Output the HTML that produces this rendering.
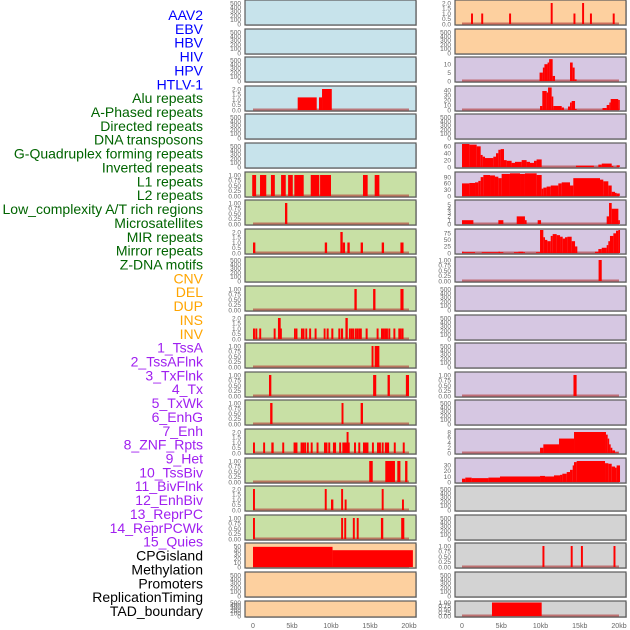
<!DOCTYPE html>
<html><head><meta charset="utf-8">
<style>
html,body{margin:0;padding:0;background:#fff;width:630px;height:630px;overflow:hidden}
svg{display:block;font-family:"Liberation Sans",sans-serif}
</style></head>
<body>
<svg id="chart" width="630" height="630" viewBox="0 0 630 630" xmlns="http://www.w3.org/2000/svg"></svg>
<script>
const labelNames = ["AAV2","EBV","HBV","HIV","HPV","HTLV-1","Alu repeats","A-Phased repeats","Directed repeats","DNA transposons","G-Quadruplex forming repeats","Inverted repeats","L1 repeats","L2 repeats","Low_complexity A/T rich regions","Microsatellites","MIR repeats","Mirror repeats","Z-DNA motifs","CNV","DEL","DUP","INS","INV","1_TssA","2_TssAFlnk","3_TxFlnk","4_Tx","5_TxWk","6_EnhG","7_Enh","8_ZNF_Rpts","9_Het","10_TssBiv","11_BivFlnk","12_EnhBiv","13_ReprPC","14_ReprPCWk","15_Quies","CPGisland","Methylation","Promoters","ReplicationTiming","TAD_boundary"];
const labelColors = ["#0000ff","#0000ff","#0000ff","#0000ff","#0000ff","#0000ff","#006400","#006400","#006400","#006400","#006400","#006400","#006400","#006400","#006400","#006400","#006400","#006400","#006400","#ffa500","#ffa500","#ffa500","#ffa500","#ffa500","#a020f0","#a020f0","#a020f0","#a020f0","#a020f0","#a020f0","#a020f0","#a020f0","#a020f0","#a020f0","#a020f0","#a020f0","#a020f0","#a020f0","#a020f0","#000","#000","#000","#000","#000"];
const xTickValues = [0,5,10,15,20];
const xTickLabels = ["0","5kb","10kb","15kb","20kb"];
const T_EMPTY = ["0","100","200","300","400","500"];
const T_ONE = ["0.00","0.25","0.50","0.75","1.00"];
const T_TWO = ["0.0","0.5","1.0","1.5","2.0"];
const leftBg = ["lb","lb","lb","lb","lb","lb","gr","gr","gr","gr","gr","gr","gr","gr","gr","gr","gr","gr","gr","pe","pe","pe"];
const rightBg = ["pe","pe","la","la","la","la","la","la","la","la","la","la","la","la","la","la","la","gy","gy","gy","gy","gy"];
const leftTicks = [T_EMPTY,T_EMPTY,T_EMPTY,T_TWO,T_EMPTY,T_EMPTY,T_ONE,T_ONE,T_TWO,T_EMPTY,T_ONE,T_TWO,T_ONE,T_ONE,T_ONE,T_TWO,T_ONE,T_TWO,T_ONE,["0","10","20","30","40","50"],T_EMPTY,T_EMPTY];
const rightTicks = [T_TWO,T_EMPTY,["0","5","10"],["0","10","20","30","40"],T_EMPTY,["0","20","40","60"],["0","30","60","90"],["0","1","2","3","4","5"],["0","25","50","75"],T_ONE,T_EMPTY,T_EMPTY,T_EMPTY,T_ONE,T_EMPTY,["0","2","4","6","8"],["0","10","20","30"],T_EMPTY,T_EMPTY,T_ONE,T_EMPTY,T_ONE];
const rightTopValue = [2,500,12.5,42,500,61,100,5.5,80,1,500,500,500,1,500,8,38,500,500,1,500,1];
const leftTopValue = [500,500,500,2,500,500,1,1,2,500,1,2,1,1,1,2,1,2,1,50,500,500];
const leftBars = [
 [],[],[],
 [[5.73,8.17,1.2],[8.46,8.85,1.2],[8.85,10.1,2]],
 [],[],
 [[-0.1,0.4,1],[0.9,1.7,1],[2.3,2.8,1],[3.6,4.2,1],[4.5,5.1,1],[5.3,6.5,1],[7.4,8.5,1],[8.6,10,1],[14.1,14.7,1],[15.6,16.2,1]],
 [[4.1,4.4,1]],
 [[0,0.3,1],[9.2,9.5,1],[11.2,11.5,2],[11.5,11.8,1],[12.1,12.4,1],[13.8,14.1,1],[16.5,16.8,1],[18.9,19.3,1]],
 [],
 [[13.0,13.3,1],[15.4,15.7,1],[18.9,19.3,1]],
 [[0,0.25,1],[0.3,0.55,1],[0.8,1.05,1],[2.65,2.9,1],[3.2,3.55,2],[3.46,3.7,1],[5.26,5.5,1],[5.5,5.7,1],[6.15,6.4,1],[6.4,6.6,1],[6.71,6.95,1],[7.2,7.45,1],[7.9,8.15,1],[9.06,9.3,1],[9.44,9.7,1],[10.04,10.3,1],[10.94,11.2,1],[11.28,11.55,1],[11.85,12.15,2],[12.3,12.55,1],[12.56,12.8,1],[12.78,13.0,1],[13.08,13.3,1],[13.29,13.5,1],[13.5,13.75,1],[13.72,13.95,1],[14.44,14.7,1],[15.85,16.1,1],[16.41,16.65,1],[16.58,16.85,1],[16.84,17.05,1],[17.05,17.3,1],[17.35,17.6,1],[18,18.25,1],[18.63,18.85,1],[18.85,19.06,1],[19.06,19.3,1]],
 [[15.2,15.45,1],[15.6,16.2,1]],
 [[2.05,2.35,1],[15.4,15.8,1],[17.25,17.55,1],[19.6,20,1]],
 [[2.2,2.5,1],[11.35,11.6,1],[13.8,14.1,1]],
 [[0,0.25,1],[1.3,1.55,1],[2.35,2.65,1],[3.75,4,1],[5.2,5.45,1],[5.45,5.7,1],[6.1,6.35,1],[6.35,6.55,1],[6.55,6.8,1],[6.9,7.15,1],[7.4,7.65,1],[8.15,8.4,1],[9.1,9.35,1],[9.3,9.55,1],[9.65,9.9,1],[10.25,10.5,1],[10.4,10.65,1],[11.05,11.3,1],[11.45,11.7,1],[11.65,11.9,1],[11.8,12.05,1],[12.0,12.25,2],[12.15,12.4,1],[12.95,13.2,1],[13.5,13.75,1],[14.1,14.35,1],[14.3,14.55,1],[14.55,14.8,1],[15.25,15.5,1],[15.9,16.15,1],[16.15,16.4,1],[16.5,16.75,1],[16.9,17.15,1],[17.1,17.35,1],[17.2,17.45,1],[18.05,18.3,1],[19.2,19.45,1]],
 [[14.9,15.35,1],[16.96,18.2,1],[18.5,18.9,1],[19.5,19.8,1]],
 [[0,0.25,2],[9.2,9.45,2],[10.0,10.3,1],[11.3,11.55,2],[11.75,12,1],[16.5,16.75,2],[19.1,19.35,1]],
 [[0,0.25,1],[11.3,11.55,1],[11.7,11.95,1],[12.8,13.05,1],[13.3,13.55,1],[16.4,16.7,1],[19.0,19.4,1]],
 [[0,10.2,48],[10.2,20.5,40]],
 [],[]
];
const rightBars = [
 [[1.15,1.4,1],[2.45,2.7,1],[6.0,6.25,1],[11.3,11.55,2],[14.2,14.45,1],[15.3,15.55,2],[16.3,16.55,1],[19.2,19.45,1]],
 [],
 [[9.88,10.3,5],[10.3,10.5,8],[10.5,10.9,10],[10.9,11.1,11],[11.1,11.55,13],[11.55,11.85,3],[13.76,14.1,11],[14.1,14.35,8],[14.35,14.6,1]],
 [[9.94,10.23,8],[10.23,10.79,38],[10.79,10.96,35],[10.96,11.42,45],[11.42,11.63,27],[11.63,12.7,8],[12.7,12.99,5],[13.5,13.76,7],[13.76,13.97,15],[13.97,14.4,18],[14.4,14.6,2],[17.9,18.43,4],[18.43,18.77,10],[18.77,18.94,15],[18.94,19.9,22],[19.9,20.1,20]],
 [],
 [[0,0.94,70],[0.94,1.87,65],[1.87,2.38,60],[2.38,2.63,35],[2.63,2.93,30],[2.93,3.99,26],[3.99,4.33,30],[4.33,4.63,40],[4.63,4.92,50],[4.92,5.35,52],[5.35,5.69,20],[5.69,6.32,18],[6.32,6.75,12],[6.75,7.6,15],[7.6,8.23,20],[8.23,8.66,15],[8.66,9.17,12],[9.17,9.5,18],[9.5,10.15,22],[14.52,16.8,4],[17.37,17.8,7],[17.8,19.07,10],[19.07,19.28,3],[19.7,20.1,5]],
 [[0,0.94,60],[0.94,1.66,62],[1.66,2.08,65],[2.08,2.38,72],[2.38,2.72,90],[2.72,3.57,100],[3.57,4.2,98],[4.2,4.63,92],[4.63,5.05,85],[5.05,6.11,105],[6.11,7.39,108],[7.39,8.02,105],[8.02,9.51,108],[9.51,10.15,100],[10.15,10.36,35],[10.36,10.78,40],[10.78,11.3,45],[11.3,12.27,50],[12.27,12.7,60],[12.7,13.76,65],[13.76,14.18,50],[14.18,17.58,85],[17.58,18,78],[18,18.64,70],[18.64,19.07,50],[19.07,19.49,20],[19.49,19.7,15],[19.7,20.1,12]],
 [[0,1.45,1],[4.63,5.27,1],[6.97,8.02,2],[8.02,8.23,1],[9.64,10.07,1],[18.43,18.73,2],[18.73,19.07,5.5],[19.07,19.92,4],[19.92,20.1,1]],
 [[0,0.21,5],[0.21,1.66,3],[2.51,4.63,3],[4.63,4.84,5],[4.84,5.27,3],[6.62,7.18,3],[7.18,7.81,5],[7.81,8.02,3],[9.43,9.94,3],[9.94,10.36,90],[10.36,10.57,60],[10.57,10.87,50],[10.87,11.3,45],[11.3,11.55,65],[11.55,12.06,72],[12.06,12.49,68],[12.49,12.83,62],[12.83,13.12,55],[13.12,13.42,60],[13.42,13.97,62],[13.97,14.4,45],[14.4,14.69,25],[16.94,17.37,5],[17.37,17.8,15],[17.8,18.43,20],[18.43,18.64,30],[18.64,18.85,45],[18.85,19.28,65],[19.28,19.62,75],[19.62,19.92,85],[19.92,20.13,90]],
 [[17.4,17.8,1]],
 [],[],[],
 [[14.2,14.6,1]],
 [],
 [[9.94,10.36,2],[10.36,12.36,3.3],[12.36,14.27,5.5],[14.27,18.34,8],[18.34,18.56,7],[18.56,18.73,5.5],[18.73,18.94,3.3],[18.94,19.15,2],[19.15,19.49,1],[19.49,19.92,0.2]],
 [[0,0.42,6],[0.42,1.23,8],[1.23,3.36,7],[3.36,4.84,8],[4.84,9.94,10],[9.94,10.57,11],[10.57,11.72,10],[11.72,12.49,12],[12.49,12.78,13],[12.78,13.34,15],[13.34,13.76,18],[13.76,14.1,22],[14.1,14.27,30],[14.27,14.61,36],[14.61,18.22,38],[18.22,18.64,34],[18.64,19.07,33],[19.07,19.49,28],[19.49,19.7,26],[19.7,20.13,30]],
 [],[],
 [[10.25,10.5,1],[13.85,14.1,1],[15.15,15.4,1],[19.3,19.55,1]],
 [],
 [[3.82,10.15,1]]
];

const NS="http://www.w3.org/2000/svg";
const svg=document.getElementById('chart');
const bgColors={lb:"#c7e3eb",gr:"#c8e0a5",pe:"#fdd09f",la:"#d6c7e2",gy:"#d3d3d3"};
const cols=[{x:245,w:171,x0:253,k:7.8,tx:241},{x:455,w:171,x0:462,k:7.85,tx:451}];
function mk(tag,attrs,parent){const e=document.createElementNS(NS,tag);for(const a in attrs)e.setAttribute(a,attrs[a]);(parent||svg).appendChild(e);return e;}

labelNames.forEach((name,i)=>{
  const t=mk('text',{x:203,y:(20+i*13.86).toFixed(1),'text-anchor':'end','font-size':'14',fill:labelColors[i]});
  
  
  t.textContent=name;
});

function panelTop(r){return r<21?Math.round(r*28.6):601;}
function panelH(r){return r<21?25:16;}

function drawPanel(c,r,bars,ticks,topVal,bg){
  const col=cols[c];const y=panelTop(r);const h=panelH(r);
  const g=mk('g',{});
  
  
  mk('rect',{x:col.x+1,y:y+1,width:col.w,height:h,fill:'#999',opacity:0.5},g);
  mk('rect',{x:col.x,y:y,width:col.w,height:h,fill:bgColors[bg],stroke:'#5a5a5a','stroke-width':1.2},g);
  const yb=y+h-1, yt=y+(h>20?3:1.5);
  const sy=v=>yb-(v/topVal)*(yb-yt);
  const sx=v=>col.x0+v*col.k;
  ticks.forEach(tl=>{
    const tt=mk('text',{x:col.tx,y:(sy(parseFloat(tl))+2.3).toFixed(1),'text-anchor':'end','font-size':'6.5',fill:'#666'},g);
    
    
    tt.textContent=tl;
  });
  if(bars.length){
    mk('rect',{x:sx(0),y:yb-1.5,width:sx(20)-sx(0),height:2,fill:'#b03030',opacity:0.6},g);
  }
  bars.forEach(b=>{
    const x1=Math.max(col.x+1,sx(b[0])),x2=Math.min(col.x+col.w-1,sx(b[1]));
    const top=Math.max(y+1,sy(b[2]));
    const br=mk('rect',{x:x1.toFixed(2),y:top.toFixed(2),width:Math.max(1.5,x2-x1).toFixed(2),height:(yb-top).toFixed(2),fill:'#ff0000'},g);
    
    
  });
}
for(let r=0;r<22;r++){
  drawPanel(0,r,leftBars[r],leftTicks[r],leftTopValue[r],leftBg[r]);
  drawPanel(1,r,rightBars[r],rightTicks[r],rightTopValue[r],rightBg[r]);
}
[0,1].forEach(c=>{
  const col=cols[c];
  xTickValues.forEach((v,i)=>{
    const t=mk('text',{x:col.x0+v*col.k,y:628,'text-anchor':'middle','font-size':'7',fill:'#666'});
    
    
    t.textContent=xTickLabels[i];
  });
});
</script>
</body></html>
